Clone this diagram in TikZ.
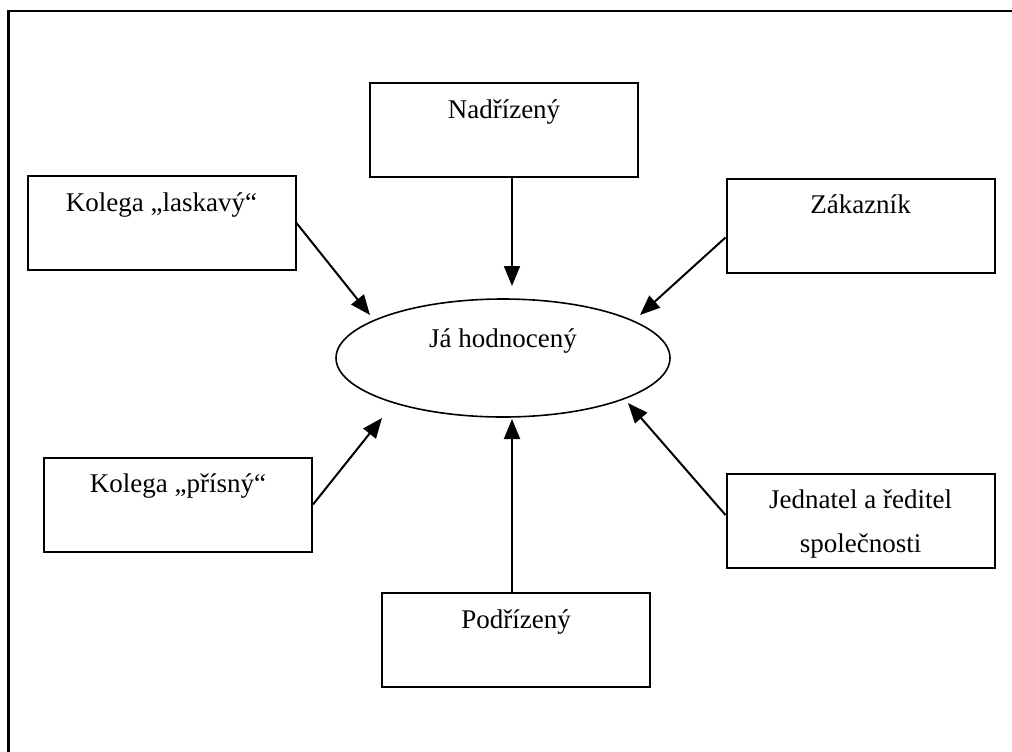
\documentclass[tikz,border=0pt]{standalone}
\usepackage{fontspec}
\setmainfont{Liberation Serif}
\usepackage{tikz}
\usetikzlibrary{shapes,arrows.meta,positioning,calc}

\begin{document}
\begin{tikzpicture}[x=0.5pt, y=-0.5pt,
    every node/.style={font=\fontsize{13.5}{22}\selectfont},
    kbox/.style={draw, line width=1pt, minimum width=134pt, inner xsep=2pt, inner ysep=0pt,
                 text height=17.5pt, text depth=29.5pt, align=center},
    arr/.style={line width=1pt, -{Triangle[length=10pt,width=8pt]}}]
                    \useasboundingbox (0,0) rectangle (1012,751);
                    % Frame
                    \draw[line width=1.2pt] (8.3,760) -- (8.3,11) -- (1020,11);

                    % Centre
                    \node[draw, ellipse, line width=0.8pt, minimum width=167pt, minimum height=59pt,
                          inner sep=0pt, text height=9pt, text depth=20pt] (ja) at (503,358) {Já hodnocený};

                    % Boxes
                    \node[kbox] (nadrizeny) at (504,130) {Nadřízený};
                    \node[kbox] (laskavy) at (161.5,223) {Kolega „laskavý“};
                    \node[kbox] (zakaznik) at (860.5,225.5) {Zákazník};
                    \node[kbox] (prisny) at (178,504.5) {Kolega „přísný“};
                    \node[kbox, text height=39pt, text depth=8pt] (jednatel) at (860.5,521) {Jednatel a ředitel\\společnosti};
                    \node[kbox] (podrizeny) at (516,640) {Podřízený};

                    % Arrow tips
                    \coordinate (tipN) at (512,286);
                    \coordinate (tipL) at (370,315);
                    \coordinate (tipZ) at (640,315);
                    \coordinate (tipP) at (382,418);
                    \coordinate (tipS) at (512,419);
                    \coordinate (tipJ) at (628,403);

                    % Arrows
                    \draw[arr] (tipN |- nadrizeny.south) -- (tipN);
                    \draw[arr] (laskavy.east) -- (tipL);
                    \draw[arr] ([yshift=-6pt]zakaznik.west) -- (tipZ);
                    \draw[arr] (prisny.east) -- (tipP);
                    \draw[arr] (tipS |- podrizeny.north) -- (tipS);
                    \draw[arr] ([yshift=3pt]jednatel.west) -- (tipJ);
                \end{tikzpicture}
\end{document}
